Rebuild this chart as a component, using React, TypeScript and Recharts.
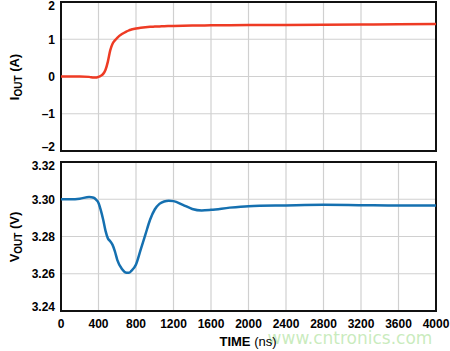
import { LineChart, Line, XAxis, YAxis, CartesianGrid, ReferenceArea } from "recharts";

const timeNs = [0, 100, 200, 300, 350, 380, 400, 425, 450, 475, 500, 525, 550, 575, 600, 650, 700, 725, 750, 800, 850, 900, 950, 1000, 1050, 1100, 1150, 1200, 1300, 1400, 1500, 1600, 1800, 2000, 2400, 2800, 3200, 3600, 4000];
const iout = [0, 0, 0, -0.01, -0.03, -0.025, -0.01, 0.02, 0.07, 0.18, 0.4, 0.7, 0.88, 0.97, 1.04, 1.14, 1.21, 1.24, 1.26, 1.29, 1.31, 1.325, 1.335, 1.34, 1.345, 1.35, 1.355, 1.358, 1.363, 1.367, 1.37, 1.373, 1.377, 1.38, 1.385, 1.39, 1.395, 1.4, 1.41];
const vout = [3.3, 3.3, 3.3003, 3.3012, 3.3008, 3.2995, 3.298, 3.294, 3.289, 3.283, 3.279, 3.2775, 3.2755, 3.272, 3.2675, 3.2625, 3.2605, 3.2605, 3.2615, 3.265, 3.273, 3.281, 3.289, 3.2945, 3.2975, 3.2988, 3.2992, 3.299, 3.297, 3.2948, 3.294, 3.2943, 3.2955, 3.2963, 3.2967, 3.297, 3.2968, 3.2966, 3.2966];

const xTicks = [0, 400, 800, 1200, 1600, 2000, 2400, 2800, 3200, 3600, 4000];
const ioutTicks = [-2, -1, 0, 1, 2];
const voutTicks = [3.24, 3.26, 3.28, 3.3, 3.32];

const data = timeNs.map((t, i) => ({ t, iout: iout[i], vout: vout[i] }));

const font = "'Liberation Sans', Arial, sans-serif";
const tickStyle = { fill: "#000", fontSize: 12, fontWeight: 700, fontFamily: font };

const fmtI = (v: number) => (v < 0 ? `\u2013${Math.abs(v)}` : `${v}`);
const fmtV = (v: number) => v.toFixed(2);

// y tick that nudges the end labels inside the frame, as in the original plot
function makeYTick(min: number, max: number, fmt: (v: number) => string) {
  return (props: any) => {
    const { x, y, payload } = props;
    const v = payload.value;
    const shift = Math.abs(v - max) < 1e-9 ? 4 : Math.abs(v - min) < 1e-9 ? -4 : 0;
    return (
      <text x={x} y={y + shift} dy="0.355em" textAnchor="end" {...tickStyle}>
        {fmt(v)}
      </text>
    );
  };
}

function AxisTitle({ x, y, main, sub, unit }: { x: number; y: number; main: string; sub: string; unit: string }) {
  return (
    <text
      transform={`translate(${x},${y}) rotate(-90)`}
      textAnchor="middle"
      fontFamily={font}
      fontWeight={700}
      fontSize={13}
      fill="#000"
    >
      <tspan>{main}</tspan>
      <tspan fontSize={10} dy={3}>{sub}</tspan>
      <tspan dy={-3}>{" " + unit}</tspan>
    </text>
  );
}

export default function App() {
  return (
    <div style={{ position: "absolute", left: 0, top: 0, width: 450, height: 351, background: "#fff", overflow: "hidden" }}>
      <div style={{ position: "absolute", left: 0, top: 0, zIndex: 2 }}>
        <LineChart width={450} height={153} data={data} margin={{ top: 2, right: 14, left: 0, bottom: 2 }} style={{ overflow: "visible" }}>
          <CartesianGrid stroke="#d0d0d0" strokeWidth={1.2} />
          <XAxis dataKey="t" type="number" domain={[0, 4000]} ticks={xTicks} hide />
          <YAxis
            type="number"
            domain={[-2, 2]}
            ticks={ioutTicks}
            interval={0}
            width={61}
            tickSize={4}
            tickMargin={2}
            tickLine={false}
            axisLine={false}
            tick={makeYTick(-2, 2, fmtI)}
          />
          <ReferenceArea x1={0} x2={4000} y1={-2} y2={2} fill="none" stroke="#111" strokeWidth={2} strokeOpacity={1} />
          <Line type="monotone" dataKey="iout" stroke="#ee3b24" strokeWidth={2.5} dot={false} isAnimationActive={false} />
        </LineChart>
      </div>
      <div style={{ position: "absolute", left: 0, top: 150, zIndex: 1 }}>
        <LineChart width={450} height={201} data={data} margin={{ top: 12, right: 14, left: 0, bottom: 0 }}>
          <CartesianGrid stroke="#d0d0d0" strokeWidth={1.2} />
          <XAxis
            dataKey="t"
            type="number"
            domain={[0, 4000]}
            ticks={xTicks}
            interval={0}
            height={40}
            tickSize={6}
            tickMargin={2}
            tickLine={false}
            axisLine={false}
            tick={tickStyle}
          />
          <YAxis
            type="number"
            domain={[3.24, 3.32]}
            ticks={voutTicks}
            interval={0}
            width={61}
            tickSize={4}
            tickMargin={2}
            tickLine={false}
            axisLine={false}
            tick={makeYTick(3.24, 3.32, fmtV)}
          />
          <ReferenceArea x1={0} x2={4000} y1={3.24} y2={3.32} fill="none" stroke="#111" strokeWidth={2} strokeOpacity={1} />
          <Line type="monotone" dataKey="vout" stroke="#1570b0" strokeWidth={2.5} dot={false} isAnimationActive={false} />
        </LineChart>
      </div>
      <svg width={450} height={351} style={{ position: "absolute", left: 0, top: 0, pointerEvents: "none", zIndex: 3 }}>
        <AxisTitle x={19} y={77} main="I" sub="OUT" unit="(A)" />
        <AxisTitle x={19} y={237} main="V" sub="OUT" unit="(V)" />
        <text x={350} y={344} textAnchor="middle" fontFamily="'DejaVu Sans', sans-serif" fontSize={17} fill="#bfe8b2" fillOpacity={0.85}>
          www.cntronics.com
        </text>
        <text x={248} y={346} textAnchor="middle" fontFamily={font} fontSize={13} fill="#000">
          <tspan fontWeight={700}>TIME</tspan>
          <tspan>{" (ns)"}</tspan>
        </text>
      </svg>
    </div>
  );
}
